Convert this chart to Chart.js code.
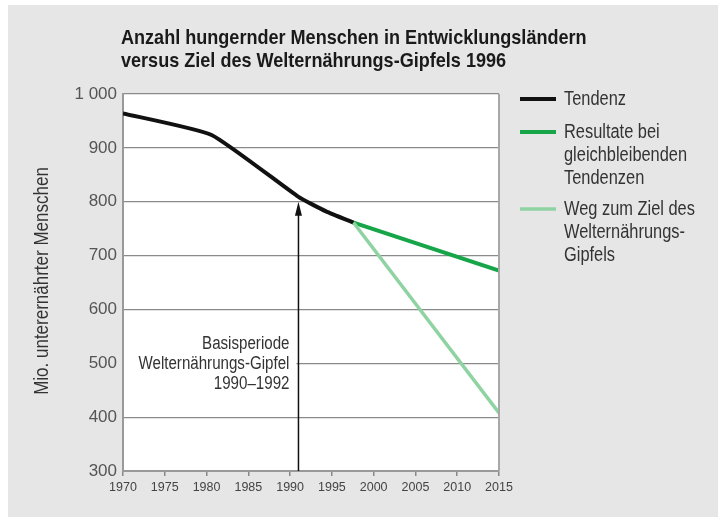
<!DOCTYPE html>
<html>
<head>
<meta charset="utf-8">
<title>Anzahl hungernder Menschen</title>
<style>
  body { margin: 0; background: #fff; }
</style>
</head>
<body>
<canvas id="myChart" width="718" height="517"></canvas>

<script src="https://cdn.jsdelivr.net/npm/chart.js"></script>
<script>
// values
const titleLines = ['Anzahl hungernder Menschen in Entwicklungsländern', 'versus Ziel des Welternährungs-Gipfels 1996'];
const yTitle = 'Mio. unterernährter Menschen';

const tendYears  = [1970, 1980.6, 1991, 1994.3, 1997.6];
const tendValues = [964, 924, 809, 782, 761];

const resYears   = [1997.6, 2015];
const resValues  = [761, 672];

const zielYears  = [1997.6, 2015];
const zielValues = [761, 408];

const legendLabels = [
  ['Tendenz'],
  ['Resultate bei', 'gleichbleibenden', 'Tendenzen'],
  ['Weg zum Ziel des', 'Welternährungs-', 'Gipfels']
];
const seriesColors = ['#111111', '#16a548', '#8fd3a3'];
const seriesWidths = [4, 4, 3.5];

const noteLines = ['Basisperiode', 'Welternährungs-Gipfel', '1990–1992'];
const noteYear = 1991;
const noteArrowTo = 800;

const sans = '"Liberation Sans", Arial, sans-serif';

function pts(xs, ys) {
  return xs.map((x, i) => ({x: x, y: ys[i]}));
}

// condensed text: squeeze horizontally around the anchor point
function squeezed(ctx, text, x, y, sx) {
  ctx.save();
  ctx.translate(x, y);
  ctx.scale(sx, 1);
  ctx.fillText(text, 0, 0);
  ctx.restore();
}

const extras = {
  id: 'extras',
  beforeDraw(chart) {
    const ctx = chart.ctx, a = chart.chartArea;
    ctx.save();
    ctx.fillStyle = '#ffffff';
    ctx.fillRect(0, 0, chart.width, chart.height);
    ctx.fillStyle = '#e6e6e6';
    ctx.fillRect(8, 5, chart.width - 8, chart.height - 5);
    ctx.fillStyle = '#ffffff';
    ctx.fillRect(a.left, a.top, a.right - a.left, a.bottom - a.top);

    // title
    ctx.fillStyle = '#1a1a1a';
    ctx.font = 'bold 21px ' + sans;
    ctx.textBaseline = 'middle';
    ctx.textAlign = 'left';
    titleLines.forEach((t, i) => squeezed(ctx, t, 121, 38 + i * 23, 0.86));

    // y title
    ctx.save();
    ctx.translate(42, 281);
    ctx.rotate(-Math.PI / 2);
    ctx.textAlign = 'center';
    ctx.fillStyle = '#333';
    ctx.font = '20px ' + sans;
    squeezed(ctx, yTitle, 0, 0, 0.85);
    ctx.restore();
    ctx.restore();
  },
  afterDatasetsDraw(chart) {
    const ctx = chart.ctx, a = chart.chartArea;
    const xs = chart.scales.x, ys = chart.scales.y;
    ctx.save();

    // right frame line
    ctx.strokeStyle = '#a8a8a8';
    ctx.lineWidth = 2;
    ctx.beginPath();
    ctx.moveTo(a.right, a.top);
    ctx.lineTo(a.right, a.bottom);
    ctx.stroke();

    // note box + text
    const ax = xs.getPixelForValue(noteYear);
    ctx.fillStyle = '#ffffff';
    ctx.fillRect(a.left + 1, 332, ax - a.left - 3, 64);
    ctx.fillStyle = '#333';
    ctx.font = '18px ' + sans;
    ctx.textAlign = 'right';
    ctx.textBaseline = 'middle';
    noteLines.forEach((t, i) => squeezed(ctx, t, ax - 9, 344 + i * 20, 0.84));

    // arrow
    const tip = ys.getPixelForValue(noteArrowTo);
    ctx.strokeStyle = '#111';
    ctx.lineWidth = 1.5;
    ctx.beginPath();
    ctx.moveTo(ax, a.bottom);
    ctx.lineTo(ax, tip + 10);
    ctx.stroke();
    ctx.fillStyle = '#111';
    ctx.beginPath();
    ctx.moveTo(ax, tip);
    ctx.lineTo(ax - 3.5, tip + 14);
    ctx.lineTo(ax + 3.5, tip + 14);
    ctx.closePath();
    ctx.fill();

    // legend
    const legendY = [99, 132, 209];
    ctx.textAlign = 'left';
    ctx.font = '20px ' + sans;
    legendLabels.forEach((lines, i) => {
      ctx.strokeStyle = seriesColors[i];
      ctx.lineWidth = seriesWidths[i];
      ctx.beginPath();
      ctx.moveTo(520, legendY[i]);
      ctx.lineTo(556, legendY[i]);
      ctx.stroke();
      ctx.fillStyle = '#333';
      lines.forEach((t, j) => squeezed(ctx, t, 564, legendY[i] + j * 23, 0.82));
    });
    ctx.restore();
  }
};

const data = {
  datasets: [{
    data: pts(zielYears, zielValues),
    label: legendLabels[2].join(' '),
    borderColor: seriesColors[2],
    borderWidth: seriesWidths[2]
  }, {
    data: pts(resYears, resValues),
    label: legendLabels[1].join(' '),
    borderColor: seriesColors[1],
    borderWidth: seriesWidths[1]
  }, {
    data: pts(tendYears, tendValues),
    label: legendLabels[0].join(' '),
    borderColor: seriesColors[0],
    borderWidth: seriesWidths[0],
    tension: 0.15
  }]
};

const config = {
  type: 'line',
  data: data,
  plugins: [extras],
  options: {
    responsive: false,
    animation: false,
    devicePixelRatio: 1,
    layout: { padding: { top: 94, right: 219, left: 0, bottom: 0 } },
    elements: {
      point: { radius: 0 },
      line: { tension: 0, borderJoinStyle: 'round', borderCapStyle: 'butt' }
    },
    plugins: {
      legend: { display: false },
      tooltip: { enabled: false }
    },
    scales: {
      x: {
        type: 'linear',
        min: 1970,
        max: 2015,
        afterFit: s => { s.height = 46; },
        ticks: {
          stepSize: 5,
          color: '#444',
          padding: 4,
          font: { family: sans, size: 12.5 },
          callback: v => String(v)
        },
        grid: { drawOnChartArea: false, drawTicks: true, tickLength: 5, color: '#888', lineWidth: 1.5 },
        border: { color: '#999', width: 2 }
      },
      y: {
        min: 300,
        max: 1000,
        afterFit: s => { s.width = 123; },
        ticks: {
          stepSize: 100,
          color: '#555',
          padding: 6,
          font: { family: sans, size: 17 },
          callback: v => v >= 1000 ? '1 000' : String(v)
        },
        grid: { drawTicks: false, color: '#8a8a8a', lineWidth: 1.2 },
        border: { color: '#999', width: 2 }
      }
    }
  }
};

const myChart = new Chart(document.getElementById('myChart'), config);
</script>
</body>
</html>
